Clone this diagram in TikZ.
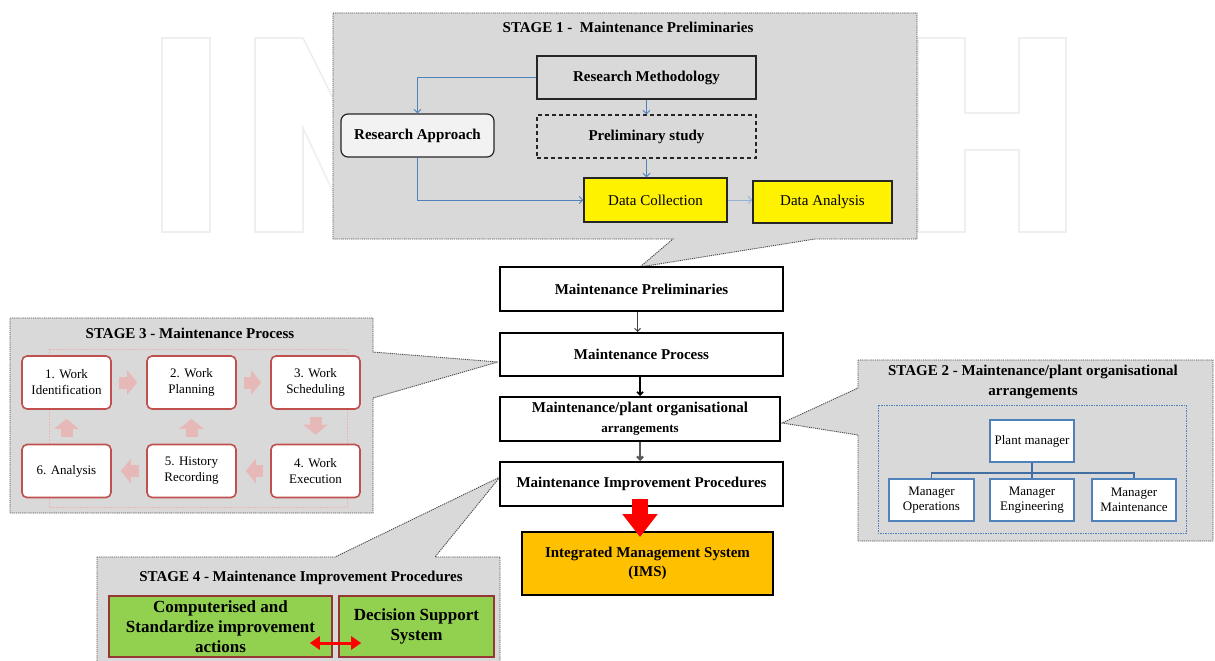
\documentclass[tikz,border=0pt]{standalone}
\usepackage{fontspec}
\setmainfont{Liberation Serif}
\usetikzlibrary{arrows.meta}

\definecolor{panelgray}{HTML}{D9D9D9}
\definecolor{panelline}{HTML}{4D4D4D}
\definecolor{linkblue}{HTML}{4F81BD}
\definecolor{cyclered}{HTML}{C0504D}
\definecolor{cyclepink}{HTML}{E6B9B8}
\definecolor{dsgreen}{HTML}{92D050}
\definecolor{dsborder}{HTML}{953735}
\definecolor{imsorange}{HTML}{FFC000}
\definecolor{marklight}{HTML}{EFEFEF}
\definecolor{approachfill}{HTML}{F2F2F2}

\newcommand{\fsz}[2]{\fontsize{#1}{#2}\selectfont}

\begin{document}
\begin{tikzpicture}[x=1pt,y=-1pt,
  wmark/.style={draw=marklight, line width=1.6pt},
  panel/.style={fill=panelgray, draw=panelline, line width=0.9pt, dash pattern=on 1.2pt off 0.9pt},
  heading/.style={font=\fsz{15}{20}\bfseries, inner sep=0pt, align=center},
  s1box/.style={draw=black!85, line width=1.2pt, inner sep=0pt, font=\fsz{15}{18}\bfseries},
  s1data/.style={draw=black!85, line width=1.4pt, fill=yellow, inner sep=0pt, font=\fsz{15}{18}},
  bluelink/.style={draw=linkblue, line width=0.9pt, -{Straight Barb[length=3.5pt,width=7pt]}},
  mainbox/.style={draw=black, line width=2pt, fill=white, inner sep=0pt, align=center, font=\fsz{15}{19}\bfseries},
  linkthin/.style={draw=black!75, line width=1pt, -{Straight Barb[length=3pt,width=6pt]}},
  linkmid/.style={draw=black, line width=1.7pt, -{Straight Barb[length=3pt,width=6pt]}},
  linkgray/.style={draw=black!65, line width=2.2pt, -{Straight Barb[length=3pt,width=6pt]}},
  redblock/.style={draw=red, line width=16pt, -{Triangle[width=34pt,length=23pt]}},
  workbox/.style={draw=cyclered, line width=1.6pt, fill=white, rounded corners=5pt, minimum width=89pt, minimum height=53pt, inner sep=0pt, align=center, font=\fsz{13}{16}},
  cyclearrow/.style={draw=cyclepink, line width=12pt, -{Triangle[width=24pt,length=10pt]}, shorten <=7pt, shorten >=9pt},
  orgbox/.style={draw=linkblue, line width=1.6pt, fill=white, inner sep=0pt, minimum height=42pt, align=center, font=\fsz{13}{15}},
  orgline/.style={draw=linkblue!85!black, line width=1.6pt},
  dsbox/.style={draw=dsborder, line width=1.6pt, fill=dsgreen, inner sep=0pt, minimum height=61pt, align=center, font=\fsz{17}{20}\bfseries},
  redboth/.style={draw=red, line width=3pt, {Triangle[width=13pt,length=10pt]}-{Triangle[width=13pt,length=10pt]}}
]
\useasboundingbox (0,0) rectangle (1215,661);

% faint publisher lettering in the background
\draw[wmark] (162,38) rectangle (210,232);
\draw[wmark] (255,232) -- (255,38) -- (303,38) -- (352,136) -- (352,38) -- (400,38) -- (400,232) -- (352,232) -- (303,128) -- (303,232) -- cycle;
\draw[wmark] (918,38) -- (965,38) -- (965,113) -- (1019,113) -- (1019,38) -- (1066,38) -- (1066,232) -- (1019,232) -- (1019,150) -- (965,150) -- (965,232) -- (918,232) -- cycle;

% callout panels
\draw[panel] (333,13) -- (917,13) -- (917,239) -- (815,239) -- (640,267) -- (673,239) -- (333,239) -- cycle;
\draw[panel] (10,318) -- (373,318) -- (373,352) -- (498,362) -- (373,398) -- (373,513) -- (10,513) -- cycle;
\draw[panel] (858,360) -- (1213,360) -- (1213,541) -- (858,541) -- (858,435) -- (782,423) -- (858,388) -- cycle;
\draw[panel] (97,557) -- (335,557) -- (500,477) -- (435,557) -- (500,557) -- (500,666) -- (97,666) -- cycle;

% STAGE 1
\node[heading] (t1) at (628,27) {STAGE 1 -\ \ Maintenance Preliminaries};
\node[s1box, minimum width=219pt, minimum height=43pt] (rm) at (646.5,77.5) {Research Methodology};
\node[s1box, dash pattern=on 4pt off 3pt, minimum width=219pt, minimum height=43pt] (ps) at (646.5,136.5) {Preliminary study};
\node[s1box, fill=approachfill, rounded corners=7pt, minimum width=153pt, minimum height=43pt] (ra) at (417.5,135.5) {Research Approach};
\node[s1data, minimum width=143pt, minimum height=44pt] (dc) at (655.5,200) {Data Collection};
\node[s1data, minimum width=139pt, minimum height=42pt] (da) at (822.5,202) {Data Analysis};

\draw[bluelink] (rm.west) -| (ra.north);
\draw[bluelink] (rm.south) -- (ps.north);
\draw[bluelink] (ps.south) -- (ps.south |- dc.north);
\draw[bluelink] (ra.south) |- (dc.west);
\draw[bluelink, draw=linkblue!60] (dc.east) -- (dc.east -| da.west);

% main column
\node[mainbox, minimum width=283pt, minimum height=44pt] (mp) at (641.5,289) {Maintenance Preliminaries};
\node[mainbox, minimum width=283pt, minimum height=43pt] (mpr) at (641.5,354.5) {Maintenance Process};
\node[mainbox, minimum width=280pt, minimum height=44pt] (mpo) at (640,419)
  {\fsz{15}{18}\bfseries Maintenance/plant organisational\\[1pt]\fsz{13}{15}\bfseries arrangements};
\node[mainbox, minimum width=283pt, minimum height=44pt] (mip) at (641.5,484) {Maintenance Improvement Procedures};
\node[mainbox, fill=imsorange, minimum width=251pt, minimum height=63pt] (ims) at (647.5,563.5)
  {Integrated Management System\\(IMS)};

\draw[linkthin] ([xshift=-4pt]mp.south) -- ([xshift=-4pt]mpr.north);
\draw[linkmid] ([xshift=-1.5pt]mpr.south) -- (mpo.north);
\draw[linkgray] (mpo.south) -- ([xshift=-1.5pt]mip.north);
\draw[redblock] ([xshift=-1.5pt,yshift=8pt]mip.south) -- ([xshift=-7.5pt,yshift=-6pt]ims.north);

% STAGE 3
\node[heading] (t3) at (190,333) {STAGE 3 - Maintenance Process};
\draw[cyclepink, line width=0.8pt, dash pattern=on 2pt off 1pt] (49,349) rectangle (347,507);
\node[workbox] (w1) at (66.5,382.5) {1. Work\\Identification};
\node[workbox] (w2) at (191.5,382.5) {2. Work\\Planning};
\node[workbox] (w3) at (315.5,382.5) {3. Work\\Scheduling};
\node[workbox] (w4) at (315.5,471) {4. Work\\Execution};
\node[workbox] (w5) at (191.5,471) {5. History\\Recording};
\node[workbox] (w6) at (66.5,471) {6. Analysis};

\draw[cyclearrow] (w1.east) -- (w2.west);
\draw[cyclearrow] (w2.east) -- (w3.west);
\draw[cyclearrow] (w3.south) -- (w4.north);
\draw[cyclearrow] (w4.west) -- (w5.east);
\draw[cyclearrow] (w5.west) -- (w6.east);
\draw[cyclearrow] (w6.north) -- (w1.south);
\draw[cyclearrow] (w5.north) -- (w2.south);

% STAGE 2
\node[heading] (t2) at (1033,382) {STAGE 2 - Maintenance/plant organisational\\arrangements};
\draw[linkblue, line width=0.8pt, dash pattern=on 1.5pt off 1pt] (878,405) rectangle (1186,533);
\node[orgbox, minimum width=84pt] (pm) at (1032,441) {Plant manager};
\node[orgbox, minimum width=85pt] (ops) at (931.5,500) {Manager\\Operations};
\node[orgbox, minimum width=84pt] (eng) at (1032,500) {Manager\\Engineering};
\node[orgbox, minimum width=84pt] (mnt) at (1134,500) {Manager\\Maintenance};

\draw[orgline] (pm.south) -- ++(0,10) coordinate (fork) -| (ops.north);
\draw[orgline] (fork) -| (mnt.north);
\draw[orgline] (fork) -- (eng.north);

% STAGE 4
\node[heading] (t4) at (301,578) {STAGE 4 - Maintenance Improvement Procedures};
\node[dsbox, minimum width=223pt] (g1) at (220.5,626.5) {Computerised and\\Standardize improvement\\actions};
\node[dsbox, minimum width=155pt] (g2) at (416.5,626.5) {Decision Support\\System};
\draw[redboth] ([xshift=-23pt,yshift=-16.5pt]g1.east) -- ([xshift=23pt,yshift=-16.5pt]g2.west);

\end{tikzpicture}
\end{document}
